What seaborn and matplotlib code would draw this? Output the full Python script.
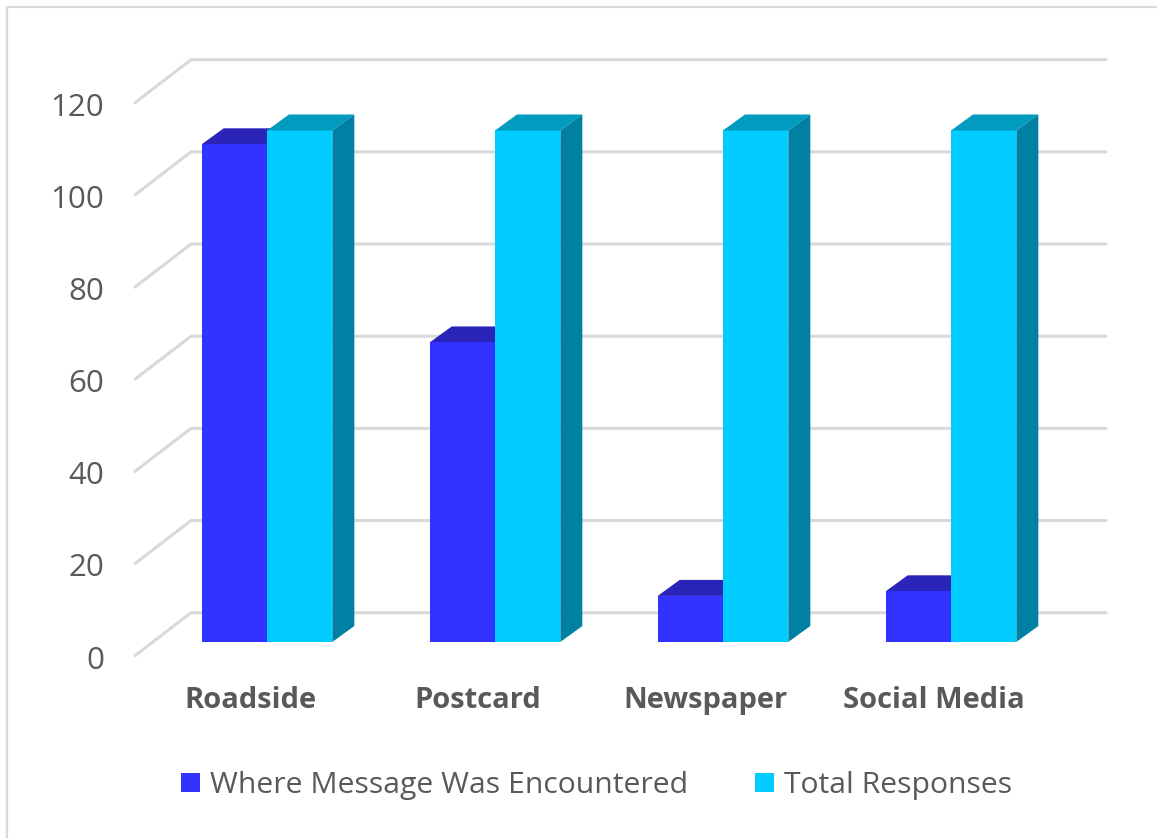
import matplotlib
matplotlib.use("Agg")
import matplotlib.pyplot as plt
from matplotlib.lines import Line2D
from matplotlib.patches import Polygon, Patch
from matplotlib.transforms import Affine2D
import pandas as pd
import seaborn as sns

categories = ["Roadside", "Postcard", "Newspaper", "Social Media"]
encountered = [108, 65, 10, 11]
total_responses = [111, 111, 111, 111]
series_names = ["Where Message Was Encountered", "Total Responses"]
y_ticks = [0, 20, 40, 60, 80, 100, 120]

W, H = 1158, 838
FRONT = {"Where Message Was Encountered": "#3333FF", "Total Responses": "#00CCFF"}
TOP = ["#2A24B8", "#009BBF"]
SIDE = "#0080A3"
GRID = "#D9D9D9"
TEXT = "#595959"

sns.set_theme(style="white")
plt.rcParams["font.family"] = ["Open Sans", "DejaVu Sans"]

df = pd.DataFrame({
    "category": categories * 2,
    "series": [series_names[0]] * 4 + [series_names[1]] * 4,
    "value": encountered + total_responses,
})

fig = plt.figure(figsize=(W / 100, H / 100), dpi=100, facecolor="white")
# axes frame in pixels: x 153..1065, y 642 (value 0) .. 89 (value 120)
ax = fig.add_axes([153 / W, 1 - 642 / H, 912 / W, 553 / H])
sns.barplot(data=df, x="category", y="value", hue="series", palette=FRONT,
            hue_order=series_names, width=0.573, gap=0, saturation=1,
            order=categories, ax=ax, zorder=4, legend=False, linewidth=0)
ax.set_xlim(-0.5, 3.5)
ax.set_ylim(0, 120)
ax.set_xlabel("")
ax.set_ylabel("")
ax.patch.set_visible(False)
sns.despine(ax=ax, left=True, bottom=True, top=True, right=True)

# depth of the pseudo-3D projection
px_x = 228.0
px_y = 553 / 120
dx = 22 / px_x
dy = 16 / px_y
for i, p in enumerate(ax.patches[:8]):
    p.set_edgecolor("none")
    x0, w, h = p.get_x(), p.get_width(), p.get_height()
    s = 0 if i < 4 else 1
    ax.add_patch(Polygon([(x0, h), (x0 + w, h), (x0 + w + dx, h + dy), (x0 + dx, h + dy)],
                         closed=True, fc=TOP[s], ec="none", clip_on=False,
                         zorder=2 if s == 0 else 5))
    if s == 1:
        ax.add_patch(Polygon([(x0 + w, 0), (x0 + w + dx, dy), (x0 + w + dx, h + dy), (x0 + w, h)],
                             closed=True, fc=SIDE, ec="none", clip_on=False, zorder=5))

# back-wall gridlines and left-wall diagonals
for v in y_ticks:
    yb = ax.transData.transform((0, v))[1] + 29.3
    yf = yb - 43
    fig.add_artist(Line2D([135 / W, 191 / W, 1106 / W], [yf / H, yb / H, yb / H],
                          color=GRID, lw=2.2, zorder=0, solid_joinstyle="miter"))

# tick labels
ax.set_yticks(y_ticks)
ax.set_yticklabels([str(v) for v in y_ticks], fontsize=22.5, color=TEXT)
ax.tick_params(axis="y", length=0, pad=35)
ax.tick_params(axis="x", length=0, pad=31.5)
ax.set_xticks(range(4))
ax.set_xticklabels(categories, fontsize=21, fontweight="bold", color=TEXT)
for lab in ax.get_yticklabels():
    lab.set_transform(lab.get_transform() + Affine2D().translate(0, -15))
for lab in ax.get_xticklabels():
    lab.set_transform(lab.get_transform() + Affine2D().translate(-17, 0))

# legend
handles = [Patch(fc=FRONT[n], ec="none", label=n) for n in series_names]
leg = fig.legend(handles=handles, ncol=2, frameon=False, fontsize=21.7,
                 loc="center", bbox_to_anchor=(596.5 / W, 1 - 785.5 / H),
                 handlelength=0.63, handleheight=0.63, handletextpad=0.33,
                 columnspacing=2.2, labelcolor=TEXT, borderpad=0, borderaxespad=0)

# outer chart border
fig.add_artist(Line2D([7.5 / W, 7.5 / W, 1 - 2 / W], [0, 1 - 7.5 / H, 1 - 7.5 / H],
                      color=GRID, lw=1.6, zorder=0))

fig.savefig("out.png", dpi=100, facecolor="white")
